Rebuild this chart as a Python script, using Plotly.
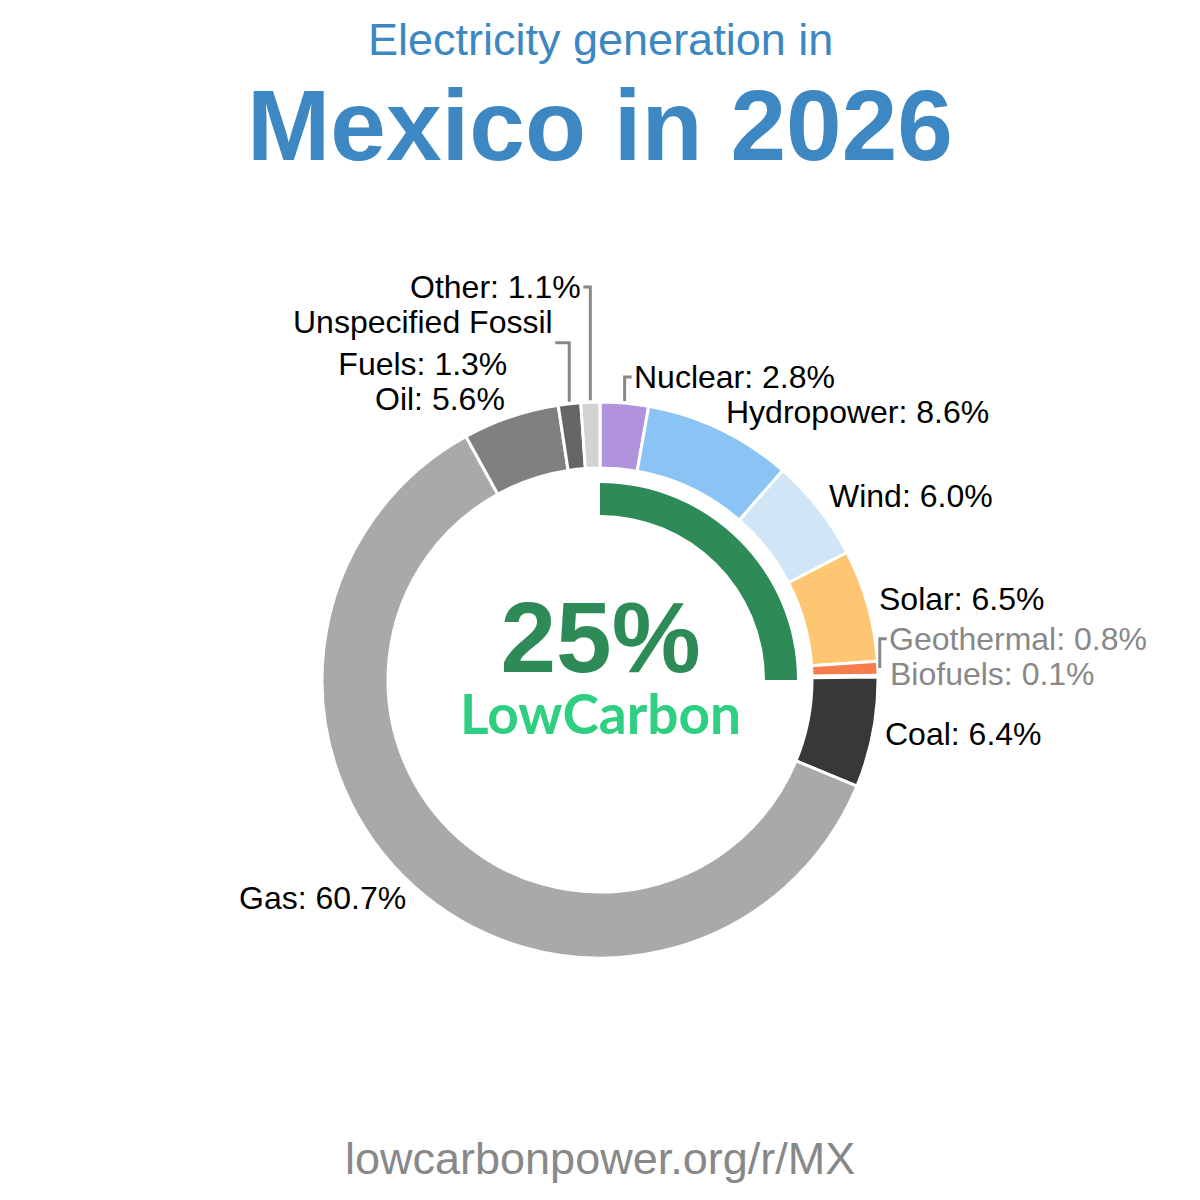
import math
import plotly.graph_objects as go

# ---------------- data ----------------
sources = ["Nuclear", "Hydropower", "Wind", "Solar", "Geothermal", "Biofuels",
           "Coal", "Gas", "Oil", "Unspecified Fossil Fuels", "Other"]
shares = [2.8, 8.6, 6.0, 6.5, 0.8, 0.1, 6.4, 60.7, 5.6, 1.3, 1.1]
low_carbon_share = 25
country = "Mexico"
year = 2026
country_code = "MX"

# ---------------- styles ----------------
slice_colors = ["#b093dc", "#89c4f4", "#d0e6f7", "#fec572", "#f47c4d", "#2ecc71",
                "#383838", "#a9a9a9", "#808080", "#666666", "#d3d3d3"]
W = H = 1200
CX, CY = 600, 680
R_OUT, R_IN = 278, 212
ARC_OUT, ARC_IN = 197, 165
LABEL_RX = 288
LABEL_RY = 295
LABEL_DY = -2
LABEL_SIZE = 32
LINE_H = 35
LINE_GAP = 41.6
BLUE = "#3d87c2"
DARK_GREEN = "#2e8b57"
BRIGHT_GREEN = "#2ecf80"
LEADER = "#888888"
FONT = "Liberation Sans, Arial, sans-serif"


def px(x):
    return x / W


def py(y):
    return 1 - y / H


def domain(r):
    return dict(x=[px(CX - r), px(CX + r)], y=[py(CY + r), py(CY - r)])


fig = go.Figure()
fig.add_trace(go.Pie(
    labels=sources, values=shares, sort=False, direction="clockwise", rotation=0,
    hole=R_IN / R_OUT, domain=domain(R_OUT), textinfo="none", hoverinfo="label+percent",
    marker=dict(colors=slice_colors, line=dict(color="white", width=3)),
    showlegend=False,
))
fig.add_trace(go.Pie(
    labels=["Low carbon", "rest"], values=[low_carbon_share, 100 - low_carbon_share],
    sort=False, direction="clockwise", rotation=0,
    hole=ARC_IN / ARC_OUT, domain=domain(ARC_OUT), textinfo="none", hoverinfo="skip",
    marker=dict(colors=[DARK_GREEN, "rgba(0,0,0,0)"], line=dict(width=0)),
    showlegend=False,
))


# ---------------- labels ----------------
def wrap(name, value):
    text = f"{name}: {value:.1f}%"
    if len(text) <= 22:
        return [text]
    words = text.split(" ")
    lines, cur = [], ""
    for w_ in words:
        if cur and len(cur) + 1 + len(w_) > 18:
            lines.append(cur)
            cur = w_
        else:
            cur = (cur + " " + w_).strip()
    lines.append(cur)
    return lines


total = sum(shares)
items = []
cum = 0.0
for name, val in zip(sources, shares):
    theta = 2 * math.pi * (cum + val / 2) / total
    cum += val
    lines = wrap(name, val)
    h = LINE_H + (len(lines) - 1) * LINE_GAP
    items.append(dict(name=name, val=val, theta=theta, lines=lines, h=h,
                      nx=CX + LABEL_RX * math.sin(theta),
                      ny=CY - LABEL_RY * math.cos(theta) + LABEL_DY,
                      right=theta < math.pi))

for side in (True, False):
    group = sorted([it for it in items if it["right"] == side], key=lambda d: -d["ny"])
    prev = None
    for it in group:
        y = it["ny"]
        if prev is not None:
            y = min(y, prev["y"] - (prev["h"] + it["h"]) / 2)
        it["y"] = y
        prev = it

shapes = []
annotations = []
for it in items:
    color = "#888888" if it["val"] < 1 else "black"
    moved = abs(it["y"] - it["ny"]) > 4
    sgn = 1 if it["right"] else -1
    if moved:
        sx = CX + (R_OUT + 2) * math.sin(it["theta"])
        sy = CY - (R_OUT + 2) * math.cos(it["theta"])
        stub = 7 if len(it["lines"]) == 1 else 14
        ex = sx + sgn * stub
        shapes.append(dict(type="path", xref="paper", yref="paper",
                           path=f"M {px(sx)},{py(sy)} L {px(sx)},{py(it['y'])} L {px(ex)},{py(it['y'])}",
                           line=dict(color=LEADER, width=3)))
        lx = ex
    else:
        lx = it["nx"]
    annotations.append(dict(
        x=px(lx), y=py(it["y"]), xref="paper", yref="paper",
        text="<br>".join(it["lines"]), showarrow=False,
        xanchor="left" if it["right"] else "right", yanchor="middle", align="center",
        font=dict(family=FONT, size=LABEL_SIZE, color=color),
    ))

# ---------------- titles & centre ----------------
centre_text = (
    f"<b><span style='font-size:100px'>{low_carbon_share}%</span></b><br>"
    f"<b><span style='font-size:55px;font-family:Lato, Inter, sans-serif;color:{BRIGHT_GREEN}'>LowCarbon</span></b>"
)
annotations += [
    dict(x=0.5, y=py(40), text="Electricity generation in", showarrow=False,
         xref="paper", yref="paper", xanchor="center", yanchor="middle",
         font=dict(family=FONT, size=45, color=BLUE)),
    dict(x=0.5, y=py(125), text=f"<b>{country} in {year}</b>", showarrow=False,
         xref="paper", yref="paper", xanchor="center", yanchor="middle",
         font=dict(family=FONT, size=100, color=BLUE)),
    dict(x=0.5, y=py(663), text=centre_text, showarrow=False,
         xref="paper", yref="paper", xanchor="center", yanchor="middle", align="center",
         font=dict(family=FONT, size=48, color=DARK_GREEN)),
    dict(x=0.5, y=py(1158), text=f"lowcarbonpower.org/r/{country_code}", showarrow=False,
         xref="paper", yref="paper", xanchor="center", yanchor="middle",
         font=dict(family=FONT, size=45, color="#888888")),
]

fig.update_layout(
    width=W, height=H, margin=dict(l=0, r=0, t=0, b=0),
    paper_bgcolor="white", plot_bgcolor="white",
    shapes=shapes, annotations=annotations, showlegend=False,
)
fig.write_html("out.html")
